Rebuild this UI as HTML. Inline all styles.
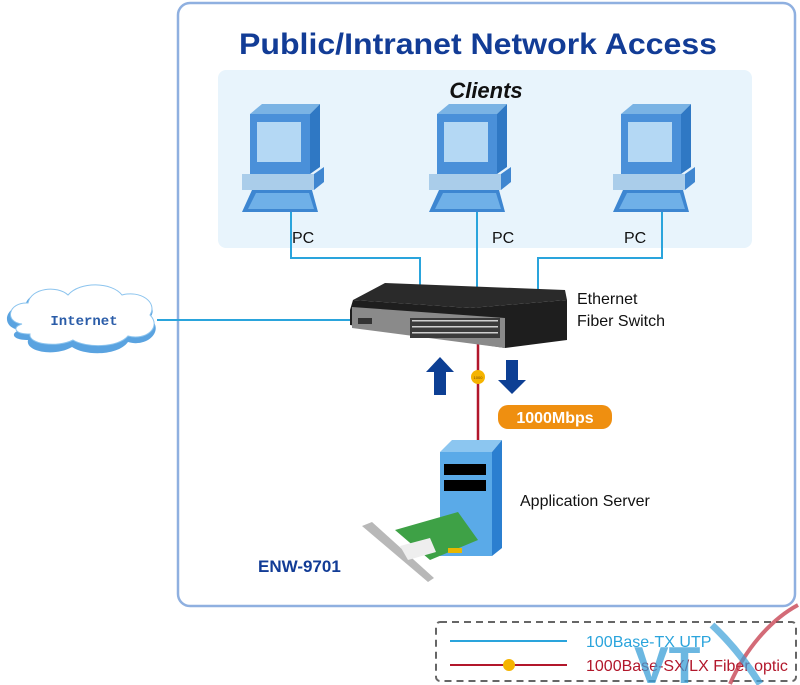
<!DOCTYPE html>
<html><head><meta charset="utf-8"><style>
html,body{margin:0;padding:0;background:#fff;}
svg{display:block;font-family:"Liberation Sans",sans-serif;}
</style></head><body>
<svg width="800" height="685" viewBox="0 0 800 685" xmlns="http://www.w3.org/2000/svg">
<defs>
<g id="pc">
 <polygon points="-40,-108 -28,-118 30,-118 20,-108" fill="#7ab3e4"/>
 <polygon points="20,-108 30,-118 30,-55 20,-48" fill="#2f78c4"/>
 <rect x="-40" y="-108" width="60" height="60" fill="#4a90d9"/>
 <rect x="-33" y="-100" width="44" height="40" fill="#b4d8f4"/>
 <rect x="-48" y="-48" width="72" height="16" fill="#aacdea"/>
 <polygon points="24,-48 34,-55 34,-40 24,-32" fill="#3f86d0"/>
 <polygon points="-38,-32 22,-32 28,-10 -48,-10" fill="#3d86d1"/>
 <polygon points="-34,-29 19,-29 24,-13 -42,-13" fill="#6fb0e8"/>
</g>
</defs>

<rect x="178" y="3" width="617" height="603" rx="12" fill="#fff" stroke="#8fb0e0" stroke-width="2.5"/>
<text x="478" y="54" text-anchor="middle" font-size="30" font-weight="bold" fill="#123c96" textLength="478" lengthAdjust="spacingAndGlyphs">Public/Intranet Network Access</text>
<rect x="218" y="70" width="534" height="178" rx="8" fill="#e8f4fc"/>
<text x="486" y="98" text-anchor="middle" font-size="22" font-weight="bold" font-style="italic" fill="#111">Clients</text>

<g stroke="#2aa4dc" stroke-width="2" fill="none">
 <polyline points="291,212 291,258 420,258 420,290"/>
 <line x1="477" y1="212" x2="477" y2="288"/>
 <polyline points="662,212 662,258 538,258 538,290"/>
 <line x1="157" y1="320" x2="355" y2="320"/>
</g>

<use href="#pc" x="290" y="222"/>
<use href="#pc" x="477" y="222"/>
<use href="#pc" x="661" y="222"/>
<text x="292" y="243" font-size="16" fill="#111">PC</text>
<text x="492" y="243" font-size="16" fill="#111">PC</text>
<text x="624" y="243" font-size="16" fill="#111">PC</text>

<line x1="478" y1="340" x2="478" y2="445" stroke="#b2172b" stroke-width="2.5"/>
<circle cx="478" cy="377" r="7" fill="#f5b400"/>
<text x="478" y="379" text-anchor="middle" font-size="4" fill="#7a4a00">1000</text>

<polygon points="353,300 385,283 565,290 567,300 470,308" fill="#2a2a2a"/>
<polygon points="350,310 353,300 470,308 567,300 567,340 505,348 350,325" fill="#1e1e1e"/>
<polygon points="352,307 505,318 505,348 352,328" fill="#8a8a8a"/>
<rect x="410" y="318" width="90" height="20" fill="#3b3b3b"/>
<g fill="#cfcfcf">
 <rect x="412" y="320" width="86" height="1.5"/><rect x="412" y="326" width="86" height="1.5"/><rect x="412" y="332" width="86" height="1.5"/>
</g>
<rect x="358" y="318" width="14" height="6" fill="#333"/>

<text x="577" y="304" font-size="16" fill="#111">Ethernet</text>
<text x="577" y="326" font-size="16" fill="#111">Fiber Switch</text>

<polygon points="440,357 454,372 446,372 446,395 434,395 434,372 426,372" fill="#0d3f94"/>
<polygon points="506,360 518,360 518,380 526,380 512,394 498,380 506,380" fill="#0d3f94"/>

<rect x="498" y="405" width="114" height="24" rx="10" fill="#ef8f10"/>
<text x="555" y="423" text-anchor="middle" font-size="16" font-weight="bold" fill="#fff">1000Mbps</text>

<path d="M20,330 C0,328 4,305 25,306 C28,290 55,287 66,297 C78,283 112,284 122,298 C140,292 160,305 150,318 C165,330 148,348 128,342 C118,356 85,356 72,347 C55,357 25,352 28,340 C12,340 10,333 20,330 Z" fill="#5aa3e0"/>
<path d="M22,324 C4,322 8,302 28,303 C31,288 57,285 68,295 C80,281 112,282 122,295 C140,290 158,302 150,315 C162,327 146,341 128,336 C118,348 86,348 73,340 C57,348 28,344 30,334 C14,334 12,327 22,324 Z" fill="#fff" stroke="#8cc4ee" stroke-width="1"/>
<text x="84" y="325" text-anchor="middle" font-size="14" font-family="Liberation Mono, monospace" font-weight="bold" fill="#2a5ca8">Internet</text>

<polygon points="440,452 452,440 502,440 492,452" fill="#8cc6f0"/>
<polygon points="492,452 502,440 502,548 492,556" fill="#2b7fd0"/>
<rect x="440" y="452" width="52" height="104" fill="#5aaae8"/>
<rect x="444" y="464" width="42" height="11" fill="#000"/>
<rect x="444" y="480" width="42" height="11" fill="#000"/>

<polygon points="395,530 458,512 478,540 430,560" fill="#3ea146"/>
<polygon points="362,526 372,522 434,578 428,582" fill="#b8b8b8"/>
<polygon points="400,546 430,538 436,552 408,560" fill="#eee"/>
<rect x="448" y="548" width="14" height="5" fill="#e8b700"/>
<text x="520" y="506" font-size="16" fill="#111">Application Server</text>
<text x="258" y="572" font-size="17" font-weight="bold" fill="#123c96">ENW-9701</text>

<rect x="436" y="622" width="360" height="59" rx="4" fill="#fff" stroke="#666" stroke-width="2" stroke-dasharray="7,5"/>
<line x1="450" y1="641" x2="567" y2="641" stroke="#2aa4dc" stroke-width="2"/>
<line x1="450" y1="665" x2="567" y2="665" stroke="#b2172b" stroke-width="2"/>
<circle cx="509" cy="665" r="6" fill="#f5b400"/>
<text x="586" y="647" font-size="16" fill="#2aa4dc">100Base-TX UTP</text>
<text x="586" y="671" font-size="16" fill="#b2172b">1000Base-SX/LX Fiber optic</text>
<text x="634" y="683" font-size="52" font-weight="bold" fill="#3aa0d8" opacity="0.75">VT</text>
<path d="M730,684 C745,650 770,620 798,605" stroke="#c43a4a" stroke-width="4" fill="none" opacity="0.75"/>
<path d="M760,684 C745,660 728,640 712,625" stroke="#3aa0d8" stroke-width="7" fill="none" opacity="0.7"/>
</svg>
</body></html>
